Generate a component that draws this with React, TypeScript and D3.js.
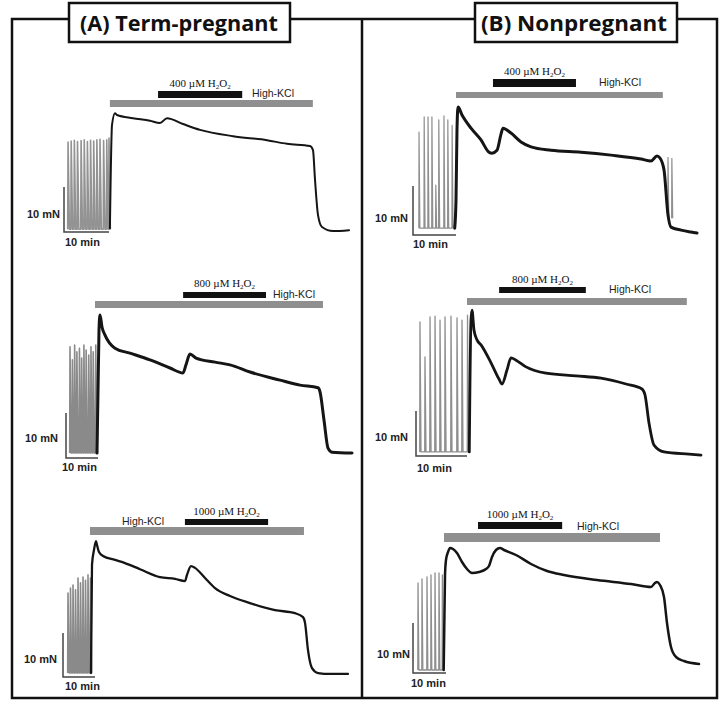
import React from "react";
import * as d3 from "d3";

const W = 727;
const H = 707;

// ---------------- DATA (time in min, tension in mN) ----------------
const titles = ["(A) Term-pregnant", "(B) Nonpregnant"];
const doses = [400, 800, 1000];
const kclLabel = "High-KCl";
const scaleForceLabel = "10 mN";
const scaleTimeLabel = "10 min";
const scaleForce = 10;
const scaleTime = 10;

// Term-pregnant, 400 µM
const tp400SpikeT = [0.9, 1.6, 2.3, 3.0, 3.8, 4.5, 5.2, 5.9, 6.6, 7.3, 8.0, 8.8, 9.5, 10.0];
const tp400SpikeV = [20.0, 20.2, 20.4, 20.1, 20.3, 20.5, 20.1, 20.4, 20.2, 20.5, 20.6, 20.3, 20.5, 20.9];
const tp400Trough = 0.6;
const tp400TraceT = [10.2, 10.67, 11.33, 11.78, 15.33, 19.11, 21.33, 22.89, 26.44, 30.22, 37.56, 45.11, 49.56, 54.67, 55.33, 55.78, 56.44, 57.33, 59.78, 63.33];
const tp400TraceV = [0.8, 23.8, 26.4, 26.0, 25.3, 24.7, 24.2, 25.3, 24.0, 22.7, 21.3, 20.4, 19.6, 19.1, 18.2, 11.6, 3.8, 1.1, 0.2, 0.4];
const tp400Kcl = [10.2, 55.3];
const tp400H2o2 = [20.9, 39.6];

// Nonpregnant, 400 µM
const np400SpikeT = [1.4, 2.6, 3.5, 4.4, 5.3, 6.0, 7.2, 8.1, 9.1];
const np400SpikeV = [21.0, 24.1, 24.1, 24.1, 10.2, 23.5, 24.3, 23.5, 22.4];
const np400Trough = 1.4;
const np400TraceT = [9.7, 10.0, 10.23, 10.47, 11.4, 13.49, 15.81, 17.67, 18.37, 19.53, 20.47, 20.93, 22.79, 25.12, 27.44, 32.09, 39.07, 46.05, 53.02, 55.35, 56.74, 57.44, 58.37, 59.3, 60.0, 62.33, 64.65, 66.05];
const np400TraceV = [1.4, 7.1, 21.4, 26.1, 24.5, 21.8, 19.4, 16.9, 16.7, 17.3, 20.6, 21.8, 20.8, 19.0, 18.0, 17.3, 16.9, 16.3, 15.5, 15.1, 16.1, 15.7, 13.3, 4.1, 1.6, 1.0, 0.6, 0.4];
const np400PostT = [59.3, 60.2];
const np400PostV = [15.9, 15.7];
const np400Kcl = [10.0, 58.1];
const np400H2o2 = [18.6, 37.9];

// Term-pregnant, 800 µM
const tp800SpikeT = [1.25, 2.0, 2.7, 3.4, 4.2, 4.9, 5.6, 6.3, 7.1, 7.8, 8.5, 9.3];
const tp800SpikeV = [24.7, 21.8, 25.1, 23.6, 24.4, 22.2, 25.1, 24.0, 22.9, 24.7, 23.6, 25.1];
const tp800Trough = 1.1;
const tp800TraceT = [9.69, 10.31, 10.63, 11.25, 12.19, 15.31, 20.0, 26.25, 32.5, 36.56, 37.5, 38.75, 40.63, 46.56, 51.25, 57.5, 66.88, 73.13, 78.75, 79.38, 80.63, 81.88, 83.13, 89.38];
const tp800TraceV = [1.1, 28.4, 31.8, 29.1, 27.3, 24.4, 23.3, 21.8, 20.0, 18.9, 20.7, 23.1, 22.2, 21.3, 20.7, 19.1, 17.3, 16.2, 15.6, 14.7, 8.4, 2.2, 1.3, 1.1];
const tp800Kcl = [9.06, 80.3];
const tp800H2o2 = [36.6, 62.5];

// Nonpregnant, 800 µM
const np800SpikeT = [0.78, 1.76, 2.75, 3.73, 4.71, 5.69, 6.86, 8.04, 9.02, 10.1];
const np800SpikeV = [29.8, 22.0, 30.9, 31.1, 30.2, 30.9, 31.1, 30.7, 30.2, 31.3];
const np800Trough = 0.9;
const np800TraceT = [10.45, 10.78, 10.98, 11.37, 11.96, 12.75, 14.71, 16.27, 16.86, 17.84, 18.63, 19.61, 21.57, 25.49, 31.37, 36.27, 41.18, 44.31, 44.9, 45.69, 46.67, 48.63, 53.53, 55.88];
const np800TraceV = [0.9, 30.2, 32.4, 28.0, 25.8, 24.7, 20.7, 17.1, 16.0, 19.1, 21.8, 21.3, 19.8, 18.4, 17.8, 17.3, 16.0, 14.9, 13.6, 7.3, 2.4, 0.9, 0.4, 0.2];
const np800Kcl = [10.0, 53.1];
const np800H2o2 = [16.3, 33.3];

// Term-pregnant, 1000 µM
const tp1000SpikeT = [1.56, 2.34, 3.13, 3.91, 4.69, 5.47, 6.25, 7.03, 7.81, 8.59];
const tp1000SpikeV = [19.1, 20.2, 20.9, 19.8, 22.5, 21.4, 22.7, 22.0, 23.2, 22.5];
const tp1000Trough = 0.9;
const tp1000TraceT = [8.75, 9.06, 9.69, 10.31, 10.63, 11.25, 12.5, 16.25, 19.38, 24.06, 30.31, 35.0, 38.13, 38.75, 40.0, 41.25, 44.38, 47.5, 52.19, 58.44, 66.25, 72.5, 75.0, 75.63, 76.56, 77.81, 79.69, 83.44, 89.06];
const tp1000TraceV = [0.9, 25.5, 28.9, 30.9, 30.0, 28.4, 27.5, 26.6, 25.9, 24.5, 22.7, 22.3, 21.8, 23.2, 25.2, 24.8, 22.5, 20.2, 18.4, 16.8, 15.2, 14.5, 13.6, 12.3, 6.1, 2.0, 0.9, 0.7, 0.7];
const tp1000Kcl = [8.44, 75.3];
const tp1000H2o2 = [38.1, 64.1];

// Nonpregnant, 1000 µM
const np1000SpikeT = [1.52, 2.73, 4.24, 5.45, 6.67, 7.88, 8.9];
const np1000SpikeV = [18.0, 18.8, 19.2, 19.6, 20.0, 20.0, 19.6];
const np1000Trough = 0.6;
const np1000TraceT = [9.3, 9.7, 10.0, 10.61, 11.21, 12.12, 13.33, 14.85, 16.36, 17.88, 20.0, 22.12, 23.03, 23.94, 25.15, 26.36, 27.58, 31.21, 35.76, 40.61, 45.76, 55.76, 66.06, 72.12, 73.33, 73.94, 74.85, 76.06, 76.97, 78.18, 79.7, 82.12, 86.67];
const np1000TraceV = [0.6, 19.6, 22.6, 24.2, 25.0, 24.8, 24.0, 22.2, 20.8, 20.0, 20.2, 20.8, 21.4, 23.2, 24.6, 25.0, 24.6, 23.6, 21.8, 20.4, 19.6, 18.6, 17.8, 17.2, 18.0, 18.2, 17.6, 15.2, 10.0, 5.2, 3.2, 2.4, 1.8];
const np1000Kcl = [9.39, 74.85];
const np1000H2o2 = [19.7, 45.2];

// ---------------- LAYOUT ----------------
type Panel = {
  ox: number; oy: number; kx: number; ky: number;
  spikeT: number[]; spikeV: number[]; trough: number;
  traceT: number[]; traceV: number[];
  postT?: number[]; postV?: number[];
  kcl: number[]; h2o2: number[]; dose: number;
  kclBarY: [number, number]; h2o2BarY: [number, number];
  doseLabelY: number; kclLabelX: number; kclLabelY: number;
  mnX: number; mnY: number; minX: number; minY: number;
  traceW: number; spikeColor: string; spikeW: number; rise: number; fall: number;
};

const panels: Panel[] = [
  {
    ox: 64, oy: 232, kx: 4.5, ky: 4.5,
    spikeT: tp400SpikeT, spikeV: tp400SpikeV, trough: tp400Trough,
    traceT: tp400TraceT, traceV: tp400TraceV,
    kcl: tp400Kcl, h2o2: tp400H2o2, dose: doses[0],
    kclBarY: [100, 107], h2o2BarY: [91, 98], doseLabelY: 87, kclLabelX: 252, kclLabelY: 97,
    mnX: 60, mnY: 218, minX: 65, minY: 246,
    traceW: 2, spikeColor: "#939393", spikeW: 1.6, rise: 0.08, fall: 0.3,
  },
  {
    ox: 413, oy: 235, kx: 4.3, ky: 4.9,
    spikeT: np400SpikeT, spikeV: np400SpikeV, trough: np400Trough,
    traceT: np400TraceT, traceV: np400TraceV, postT: np400PostT, postV: np400PostV,
    kcl: np400Kcl, h2o2: np400H2o2, dose: doses[0],
    kclBarY: [92, 98], h2o2BarY: [79, 87], doseLabelY: 75, kclLabelX: 599, kclLabelY: 86,
    mnX: 408, mnY: 222, minX: 413, minY: 248,
    traceW: 3, spikeColor: "#8f8f8f", spikeW: 1.2, rise: 0.05, fall: 0.2,
  },
  {
    ox: 66, oy: 458, kx: 3.2, ky: 4.5,
    spikeT: tp800SpikeT, spikeV: tp800SpikeV, trough: tp800Trough,
    traceT: tp800TraceT, traceV: tp800TraceV,
    kcl: tp800Kcl, h2o2: tp800H2o2, dose: doses[1],
    kclBarY: [301, 308], h2o2BarY: [292, 298], doseLabelY: 287, kclLabelX: 273, kclLabelY: 298,
    mnX: 58, mnY: 442, minX: 62, minY: 471,
    traceW: 3, spikeColor: "#8a8a8a", spikeW: 1.6, rise: 0.1, fall: 0.35,
  },
  {
    ox: 416, oy: 456, kx: 5.1, ky: 4.5,
    spikeT: np800SpikeT, spikeV: np800SpikeV, trough: np800Trough,
    traceT: np800TraceT, traceV: np800TraceV,
    kcl: np800Kcl, h2o2: np800H2o2, dose: doses[1],
    kclBarY: [298, 305], h2o2BarY: [287, 293], doseLabelY: 283, kclLabelX: 609, kclLabelY: 293,
    mnX: 408, mnY: 441, minX: 417, minY: 472,
    traceW: 2.8, spikeColor: "#8f8f8f", spikeW: 1.3, rise: 0.05, fall: 0.2,
  },
  {
    ox: 63, oy: 677, kx: 3.2, ky: 4.4,
    spikeT: tp1000SpikeT, spikeV: tp1000SpikeV, trough: tp1000Trough,
    traceT: tp1000TraceT, traceV: tp1000TraceV,
    kcl: tp1000Kcl, h2o2: tp1000H2o2, dose: doses[2],
    kclBarY: [527, 535], h2o2BarY: [519, 525], doseLabelY: 515, kclLabelX: 122, kclLabelY: 525,
    mnX: 57, mnY: 663, minX: 65, minY: 690,
    traceW: 2.3, spikeColor: "#8a8a8a", spikeW: 1.6, rise: 0.1, fall: 0.35,
  },
  {
    ox: 413, oy: 673, kx: 3.3, ky: 5.0,
    spikeT: np1000SpikeT, spikeV: np1000SpikeV, trough: np1000Trough,
    traceT: np1000TraceT, traceV: np1000TraceV,
    kcl: np1000Kcl, h2o2: np1000H2o2, dose: doses[2],
    kclBarY: [533, 542], h2o2BarY: [522, 529], doseLabelY: 518, kclLabelX: 577, kclLabelY: 530,
    mnX: 410, mnY: 658, minX: 411, minY: 687,
    traceW: 2.5, spikeColor: "#8f8f8f", spikeW: 1.3, rise: 0.06, fall: 0.25,
  },
];

const sansBold = "'Liberation Sans', Arial, sans-serif";

function PanelG({ p }: { p: Panel }) {
  const xs = d3.scaleLinear().domain([0, scaleTime]).range([p.ox, p.ox + scaleTime * p.kx]);
  const ys = d3.scaleLinear().domain([0, scaleForce]).range([p.oy, p.oy - scaleForce * p.ky]);
  const lin = d3.line<[number, number]>().x((d) => xs(d[0])).y((d) => ys(d[1]));
  const smooth = d3
    .line<[number, number]>()
    .x((d) => xs(d[0]))
    .y((d) => ys(d[1]))
    .curve(d3.curveMonotoneX);

  const spikePts: [number, number][] = [];
  p.spikeT.forEach((t, i) => {
    spikePts.push([t - p.rise, p.trough]);
    spikePts.push([t, p.spikeV[i]]);
    spikePts.push([t + p.fall, p.trough]);
  });
  const tracePts: [number, number][] = p.traceT.map((t, i) => [t, p.traceV[i]]);
  const postPaths: string[] = (p.postT || []).map((t, i) => {
    const pts: [number, number][] = [
      [t - p.rise, p.trough + 2],
      [t, (p.postV as number[])[i]],
      [t + p.fall, p.trough + 2],
    ];
    return lin(pts) as string;
  });

  const h2o2Mid = (xs(p.h2o2[0]) + xs(p.h2o2[1])) / 2;

  return (
    <g>
      {/* bars */}
      <rect
        x={xs(p.kcl[0])}
        y={p.kclBarY[0]}
        width={xs(p.kcl[1]) - xs(p.kcl[0])}
        height={p.kclBarY[1] - p.kclBarY[0]}
        fill="#8f8f8f"
      />
      <rect
        x={xs(p.h2o2[0])}
        y={p.h2o2BarY[0]}
        width={xs(p.h2o2[1]) - xs(p.h2o2[0])}
        height={p.h2o2BarY[1] - p.h2o2BarY[0]}
        fill="#111"
      />
      <text
        x={h2o2Mid}
        y={p.doseLabelY}
        textAnchor="middle"
        fontFamily="'Liberation Serif', 'Times New Roman', serif"
        fontSize={11}
        fill="#111"
      >
        {`${p.dose} µM H`}
        <tspan fontSize={7} dy={2}>2</tspan>
        <tspan dy={-2}>O</tspan>
        <tspan fontSize={7} dy={2}>2</tspan>
      </text>
      <text x={p.kclLabelX} y={p.kclLabelY} fontFamily={sansBold} fontSize={10.5} fill="#222">
        {kclLabel}
      </text>

      {/* spikes */}
      <path d={lin(spikePts) as string} fill="none" stroke={p.spikeColor} strokeWidth={p.spikeW} strokeLinejoin="round" />
      {postPaths.map((d, i) => (
        <path key={i} d={d} fill="none" stroke={p.spikeColor} strokeWidth={p.spikeW} />
      ))}
      {/* trace */}
      <path
        d={smooth(tracePts) as string}
        fill="none"
        stroke="#151515"
        strokeWidth={p.traceW}
        strokeLinejoin="round"
        strokeLinecap="round"
      />

      {/* scale bars */}
      <path
        d={`M${xs(0)},${ys(scaleForce)}L${xs(0)},${ys(0)}L${xs(scaleTime)},${ys(0)}`}
        fill="none"
        stroke="#444"
        strokeWidth={1.5}
      />
      <text x={p.mnX} y={p.mnY} textAnchor="end" fontFamily={sansBold} fontWeight="bold" fontSize={11} fill="#222">
        {scaleForceLabel}
      </text>
      <text x={p.minX} y={p.minY} fontFamily={sansBold} fontWeight="bold" fontSize={11} fill="#222">
        {scaleTimeLabel}
      </text>
    </g>
  );
}

export default function App() {
  return (
    <svg width={W} height={H} style={{ position: "absolute", left: 0, top: 0, background: "#fff" }}>
      <rect x={0} y={0} width={W} height={H} fill="#fff" />
      <rect x={12} y={19} width={705} height={679} fill="none" stroke="#111" strokeWidth={2.5} />
      <line x1={362} x2={362} y1={19} y2={698} stroke="#111" strokeWidth={2.5} />
      {/* title boxes */}
      <rect x={69} y={3} width={221} height={39} fill="#fff" stroke="#111" strokeWidth={2.5} />
      <text
        x={179}
        y={31}
        textAnchor="middle"
        fontFamily="'Open Sans', sans-serif"
        fontWeight="bold"
        fontSize={21}
        textLength={198}
        lengthAdjust="spacingAndGlyphs"
        fill="#111"
      >
        {titles[0]}
      </text>
      <rect x={475} y={3} width={202} height={39} fill="#fff" stroke="#111" strokeWidth={2.5} />
      <text
        x={574}
        y={31}
        textAnchor="middle"
        fontFamily="'Open Sans', sans-serif"
        fontWeight="bold"
        fontSize={21}
        textLength={186}
        lengthAdjust="spacingAndGlyphs"
        fill="#111"
      >
        {titles[1]}
      </text>
      {panels.map((p, i) => (
        <PanelG key={i} p={p} />
      ))}
    </svg>
  );
}
